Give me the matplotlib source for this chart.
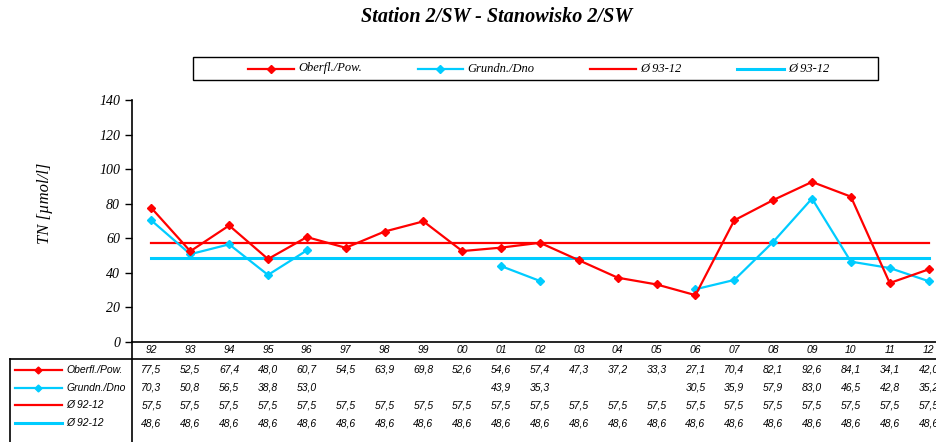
import numpy as np
import matplotlib
matplotlib.use("Agg")
import matplotlib.pyplot as plt
from matplotlib.lines import Line2D
from matplotlib.patches import Rectangle
from matplotlib.transforms import blended_transform_factory

# TN data, station 2/SW
years = ["92", "93", "94", "95", "96", "97", "98", "99", "00", "01", "02",
         "03", "04", "05", "06", "07", "08", "09", "10", "11", "12"]
surface = [77.5, 52.5, 67.4, 48.0, 60.7, 54.5, 63.9, 69.8, 52.6, 54.6, 57.4,
           47.3, 37.2, 33.3, 27.1, 70.4, 82.1, 92.6, 84.1, 34.1, 42.0]
bottom = [70.3, 50.8, 56.5, 38.8, 53.0, None, None, None, None, 43.9, 35.3,
          None, None, None, 30.5, 35.9, 57.9, 83.0, 46.5, 42.8, 35.2]
surface_mean = 57.5
bottom_mean = 48.6
names = ["Oberfl./Pow.", "Grundn./Dno", "Ø 92-12", "Ø 92-12"]
legend_names = ["Oberfl./Pow.", "Grundn./Dno", "Ø 93-12", "Ø 93-12"]

RED = "#ff0000"
CYAN = "#00ccff"
W, H = 937, 442

plt.rcParams["font.family"] = ["Liberation Serif", "DejaVu Serif"]

fig = plt.figure(figsize=(W / 100, H / 100), dpi=100)
ax = fig.add_axes([132 / W, 1 - 342 / H, 816 / W, 242 / H])

x = np.arange(len(years))
bot = np.array([np.nan if v is None else v for v in bottom])
means_s = np.full(len(x), surface_mean)
means_b = np.full(len(x), bottom_mean)

ax.plot(x, surface, color=RED, lw=1.6, marker="D", ms=4.5, zorder=4)
ax.plot(x, bot, color=CYAN, lw=1.6, marker="D", ms=4.5, zorder=3)
ax.plot(x, means_s, color=RED, lw=1.6, zorder=2)
ax.plot(x, means_b, color=CYAN, lw=2.2, zorder=2)

ax.set_xlim(-0.5, len(years) - 0.5)
ax.set_ylim(0, 140)
ax.set_yticks(range(0, 141, 20))
ax.set_xticks([])
ax.tick_params(axis="y", direction="out", length=5, width=1, labelsize=10)
for lab in ax.get_yticklabels():
    lab.set_fontstyle("italic")
for s in ["top", "right"]:
    ax.spines[s].set_visible(False)
ax.spines["left"].set_linewidth(1.2)
ax.spines["bottom"].set_linewidth(1.2)

fig.text(45 / W, 1 - 203 / H, "TN [µmol/l]", rotation=90, ha="center",
         va="center", fontsize=12, fontstyle="italic")
fig.text(497 / W, 1 - 17 / H, "Station 2/SW - Stanowisko 2/SW", ha="center",
         va="center", fontsize=14.5, fontweight="bold", fontstyle="italic")


def fy(py):
    return 1 - py / H


# legend box above the plot
fig.add_artist(Rectangle((193 / W, fy(80)), 685 / W, 23 / H, fill=False,
                         edgecolor="black", lw=1.0))
leg_x = [(248, 294), (418, 463), (590, 636), (737, 784)]
leg_style = [(RED, "D", 1.6), (CYAN, "D", 1.6), (RED, None, 1.6),
             (CYAN, None, 2.2)]
for (x0, x1), (col, mk, lw), name in zip(leg_x, leg_style, legend_names):
    fig.add_artist(Line2D([x0 / W, x1 / W], [fy(68.5)] * 2, color=col, lw=lw))
    if mk:
        fig.add_artist(Line2D([(x0 + x1) / 2 / W], [fy(68.5)], color=col,
                              marker=mk, ms=4))
    fig.text((x1 + 4) / W, fy(68.5), name, ha="left", va="center",
             fontsize=9, fontstyle="italic")

# data table under the axis
tr = blended_transform_factory(ax.transData, fig.transFigure)
tab_font = dict(family=["Liberation Sans", "DejaVu Sans"], style="italic",
                size=7.5)


def fmt(v):
    return "" if v is None or (isinstance(v, float) and np.isnan(v)) \
        else f"{v:.1f}".replace(".", ",")


for i, yr in enumerate(years):
    ax.text(i, fy(350), yr, transform=tr, ha="center", va="center",
            clip_on=False, **tab_font)

rows = [surface, bottom, list(means_s), list(means_b)]
row_y = [370, 388, 405, 423]
for r, (vals, py) in enumerate(zip(rows, row_y)):
    for i, v in enumerate(vals):
        ax.text(i, fy(py), fmt(v), transform=tr, ha="center", va="center",
                clip_on=False, **tab_font)
    col, mk, lw = leg_style[r]
    fig.add_artist(Line2D([15 / W, 62 / W], [fy(py)] * 2, color=col, lw=lw))
    if mk:
        fig.add_artist(Line2D([38.5 / W], [fy(py)], color=col, marker=mk,
                              ms=3.5))
    fig.text(66 / W, fy(py), names[r], ha="left", va="center", **tab_font)

fig.add_artist(Line2D([10 / W, 1], [fy(359)] * 2, color="black", lw=1.2))
fig.add_artist(Line2D([10 / W, 10 / W], [fy(359), 0], color="black", lw=1.2))
fig.add_artist(Line2D([132 / W, 132 / W], [fy(342), 0], color="black", lw=1.2))

fig.savefig("out.png", dpi=100)
